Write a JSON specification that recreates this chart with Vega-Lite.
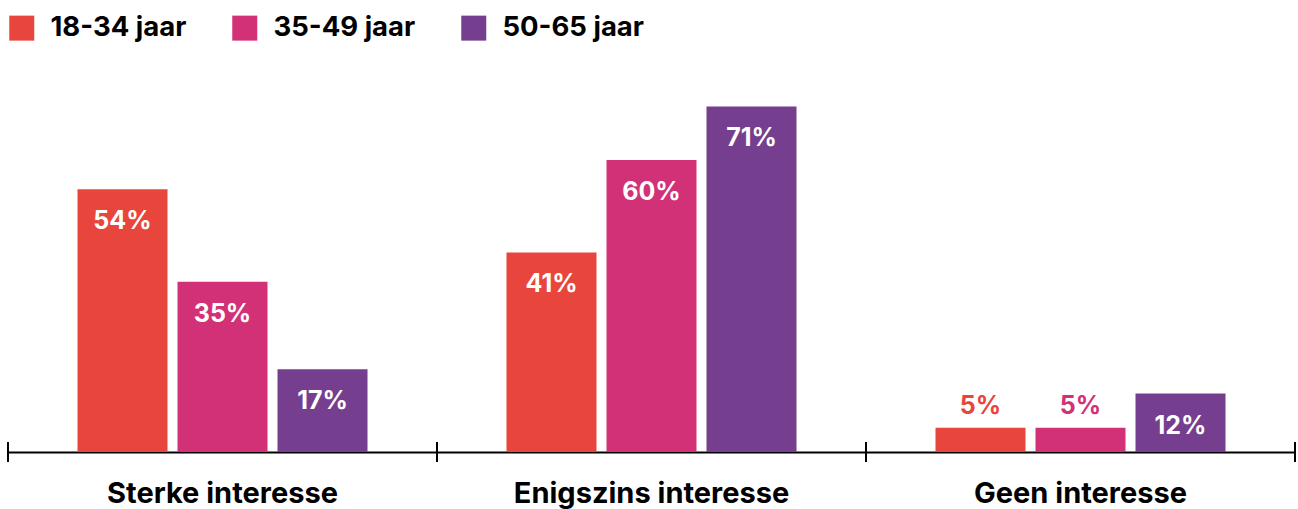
{
  "$schema": "https://vega.github.io/schema/vega-lite/v6.json",
  "width": 1287,
  "height": 365,
  "autosize": "none",
  "padding": {"left": 8, "top": 87, "right": 3, "bottom": 57},
  "config": {
    "font": "Inter",
    "view": {"stroke": null},
    "background": "white"
  },
  "data": {
    "values": [
      {"cat": "Sterke interesse", "group": "18-34 jaar", "value": 0.54},
      {"cat": "Sterke interesse", "group": "35-49 jaar", "value": 0.35},
      {"cat": "Sterke interesse", "group": "50-65 jaar", "value": 0.17},
      {"cat": "Enigszins interesse", "group": "18-34 jaar", "value": 0.41},
      {"cat": "Enigszins interesse", "group": "35-49 jaar", "value": 0.60},
      {"cat": "Enigszins interesse", "group": "50-65 jaar", "value": 0.71},
      {"cat": "Geen interesse", "group": "18-34 jaar", "value": 0.05},
      {"cat": "Geen interesse", "group": "35-49 jaar", "value": 0.05},
      {"cat": "Geen interesse", "group": "50-65 jaar", "value": 0.12}
    ]
  },
  "encoding": {
    "x": {
      "field": "cat",
      "type": "nominal",
      "sort": ["Sterke interesse", "Enigszins interesse", "Geen interesse"],
      "scale": {"paddingInner": 0, "paddingOuter": 0},
      "axis": {
        "title": null,
        "labelAngle": 0,
        "labelFontSize": 29,
        "labelFontWeight": "bold",
        "labelColor": "#000000",
        "labelPadding": 27,
        "labelLimit": 0,
        "ticks": false,
        "domainColor": "#000000",
        "domainWidth": 2
      }
    }
  },
  "layer": [
    {
      "mark": {"type": "bar"},
      "encoding": {
        "xOffset": {
          "field": "group",
          "type": "nominal",
          "scale": {"paddingInner": 0.1, "paddingOuter": 0.695}
        },
        "y": {
          "field": "value",
          "type": "quantitative",
          "scale": {"domain": [0, 0.75], "nice": false},
          "axis": null
        },
        "color": {
          "field": "group",
          "type": "nominal",
          "scale": {
            "domain": ["18-34 jaar", "35-49 jaar", "50-65 jaar"],
            "range": ["#E8463C", "#D33177", "#763E8E"]
          },
          "legend": {
            "title": null,
            "orient": "none",
            "direction": "horizontal",
            "legendX": 0,
            "legendY": -73,
            "padding": 0,
            "symbolType": "square",
            "symbolSize": 625,
            "symbolStrokeWidth": 0,
            "symbolOpacity": 1,
            "labelFontSize": 27.5,
            "labelFontWeight": "bold",
            "labelColor": "#000000",
            "labelOffset": 15,
            "labelLimit": 0,
            "columnPadding": 44
          }
        }
      }
    },
    {
      "transform": [{"filter": "datum.value >= 0.1"}],
      "mark": {
        "type": "text",
        "baseline": "middle",
        "dy": 32,
        "fontSize": 25,
        "fontWeight": "bold",
        "color": "#ffffff"
      },
      "encoding": {
        "xOffset": {"field": "group", "type": "nominal"},
        "y": {"field": "value", "type": "quantitative"},
        "text": {"field": "value", "type": "quantitative", "format": ".0%"}
      }
    },
    {
      "transform": [{"filter": "datum.value < 0.1"}],
      "mark": {
        "type": "text",
        "baseline": "middle",
        "dy": -22,
        "fontSize": 25,
        "fontWeight": "bold"
      },
      "encoding": {
        "xOffset": {"field": "group", "type": "nominal"},
        "y": {"field": "value", "type": "quantitative"},
        "color": {"field": "group", "type": "nominal", "legend": null},
        "text": {"field": "value", "type": "quantitative", "format": ".0%"}
      }
    },
    {
      "transform": [{"filter": "datum.group == '18-34 jaar'"}],
      "mark": {"type": "rule", "color": "#000000", "strokeWidth": 2},
      "encoding": {
        "x": {"field": "cat", "type": "nominal", "bandPosition": 0, "sort": ["Sterke interesse", "Enigszins interesse", "Geen interesse"]},
        "y": {"datum": 0.0205},
        "y2": {"datum": -0.0205}
      }
    },
    {
      "transform": [{"filter": "datum.group == '18-34 jaar' && datum.cat == 'Geen interesse'"}],
      "mark": {"type": "rule", "color": "#000000", "strokeWidth": 2},
      "encoding": {
        "x": {"field": "cat", "type": "nominal", "bandPosition": 1, "sort": ["Sterke interesse", "Enigszins interesse", "Geen interesse"]},
        "y": {"datum": 0.0205},
        "y2": {"datum": -0.0205}
      }
    }
  ]
}
